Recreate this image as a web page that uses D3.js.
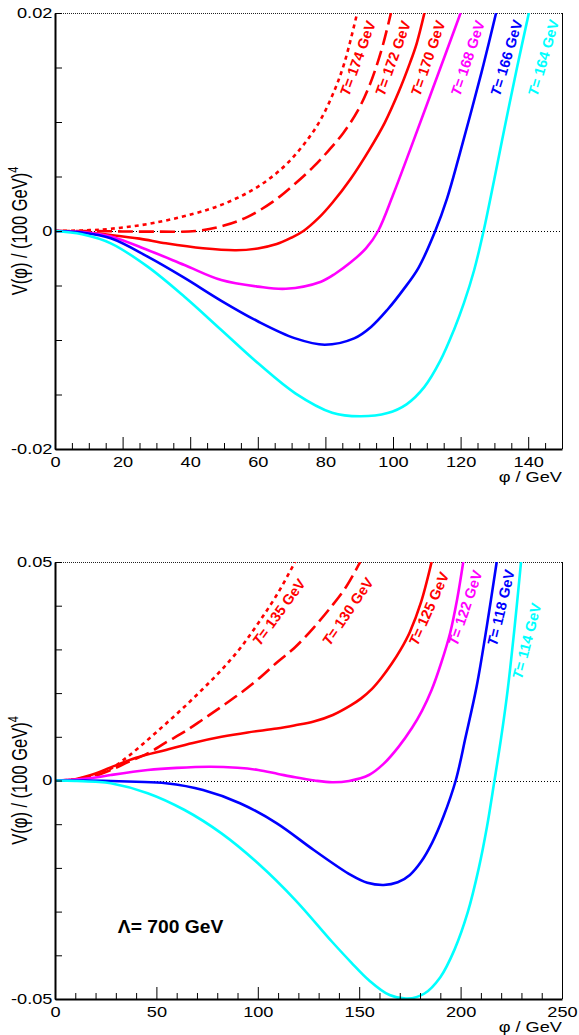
<!DOCTYPE html>
<html><head><meta charset="utf-8">
<script src="https://cdn.jsdelivr.net/npm/d3@7"></script>
<style>body{margin:0;background:#fff} svg{display:block}</style>
</head><body>
<svg id="c" width="579" height="1035"></svg>
<script>
// ---------------- DATA ----------------
// Top panel: phi (GeV), V (100 GeV)^4
const topT174 = [[0,0],[8,0.00005],[16.5,0.0002],[29.6,0.00076],[44.9,0.00193],[53,0.0029],[60.2,0.0041],[67,0.0057],[73,0.0077],[78,0.0099],[82,0.0124],[85.5,0.0153],[89.4,0.02]];
const topT172 = [[0,0],[10,0],[20,-0.00004],[30,-0.00006],[41.6,0],[50,0.0005],[57,0.0013],[64.5,0.0027],[70.5,0.0042],[76.5,0.0059],[81,0.0074],[85.3,0.009],[89.5,0.011],[92.9,0.01324],[96.5,0.0165],[99.4,0.02]];
const topT170 = [[0,0],[8,-0.0001],[16.5,-0.00037],[25,-0.0007],[32.8,-0.00113],[43.8,-0.00159],[53.6,-0.00177],[60,-0.0016],[65.6,-0.0012],[70,-0.0006],[73.5,0],[78,0.0012],[82,0.00257],[87.5,0.0048],[92.9,0.0074],[97.5,0.0099],[101.6,0.0127],[105,0.0154],[107,0.0172],[109.3,0.02]];
const topT168 = [[0,0],[8,-0.0001],[16.5,-0.0005],[27.4,-0.00174],[38.3,-0.00312],[49.2,-0.0045],[60.1,-0.0051],[68.3,-0.0053],[78.7,-0.00465],[83,-0.0039],[87.4,-0.0029],[92,-0.0016],[95.6,0],[100,0.0033],[105,0.0074],[112.4,0.0136],[120,0.02]];
const topT166 = [[0,0],[8,-0.00015],[16.5,-0.00067],[27.4,-0.00235],[38.3,-0.0043],[49.2,-0.0064],[60.1,-0.0083],[71.1,-0.00985],[79.8,-0.01043],[88.5,-0.00985],[93.5,-0.0088],[98.4,-0.0072],[103,-0.0054],[107.5,-0.0034],[112.5,0],[116,0.003],[119.5,0.0068],[123,0.0108],[126.8,0.0153],[130.5,0.02]];
const topT164 = [[0,0],[8,-0.0003],[16.5,-0.00113],[27.4,-0.00327],[38.3,-0.00603],[49.2,-0.00908],[60.1,-0.01214],[71.1,-0.01489],[82,-0.01667],[90.2,-0.017],[98.4,-0.0167],[104,-0.0159],[109.3,-0.0143],[114,-0.0119],[118,-0.0091],[121,-0.0066],[124,-0.0036],[126.8,0],[130,0.0048],[133.3,0.0099],[136.7,0.015],[140.2,0.02]];

// Bottom panel
const botT135 = [[0,0],[10,0.0003],[20,0.0013],[27.5,0.0027],[36,0.0055],[45.7,0.0093],[54.7,0.013],[63.9,0.0169],[73,0.021],[82.1,0.0253],[91.2,0.0302],[100.2,0.036],[109.4,0.0425],[118.4,0.05]];
const botT130 = [[0,0],[10,0.0002],[20,0.0011],[27.5,0.0024],[36,0.0042],[45.7,0.0062],[54.7,0.0087],[63.9,0.01117],[73,0.014],[82.1,0.0169],[91.2,0.0199],[100.2,0.0232],[109.4,0.027],[118.4,0.0305],[127.6,0.035],[136.6,0.04],[143.5,0.0443],[150.5,0.05]];
const botT125 = [[0,0],[10,0.0003],[20,0.0016],[27.5,0.003],[40,0.0052],[54.7,0.007],[68,0.0086],[82.1,0.01],[95,0.011],[109.4,0.0119],[118,0.0126],[127.6,0.0135],[137,0.015],[145.8,0.0172],[151,0.0188],[156.2,0.0209],[161,0.0235],[166,0.0267],[170.5,0.03],[175,0.034],[180.5,0.0408],[185.7,0.05]];
const botT122 = [[0,0],[10,0.0002],[20,0.0007],[27.5,0.00126],[45.7,0.0024],[60,0.0029],[76.6,0.00316],[90,0.0029],[100.2,0.0024],[110,0.0015],[118.4,0.00073],[128,0],[136.6,-0.0004],[145,-0.0001],[154.8,0.00126],[162,0.0038],[169.4,0.0077],[176,0.012],[181,0.016],[185.7,0.0207],[190.5,0.027],[194.8,0.0337],[198.3,0.0415],[201.3,0.05]];
const botT118 = [[0,0],[15,0],[27.5,-0.0001],[40,-0.0003],[54.7,-0.00064],[73,-0.00217],[91.2,-0.0052],[109.4,-0.0098],[127.6,-0.0159],[145.8,-0.0216],[154,-0.0234],[162.1,-0.0239],[169,-0.0233],[175,-0.0216],[180.5,-0.0186],[186,-0.0142],[191.5,-0.0083],[197.6,0],[202.5,0.01],[207.9,0.0215],[213,0.0355],[217.8,0.05]];
const botT114 = [[0,0],[10,-0.0001],[20,-0.0003],[27.5,-0.00064],[45.7,-0.0029],[63.9,-0.00675],[82.1,-0.0121],[100.2,-0.019],[118.4,-0.0273],[136.6,-0.0369],[146,-0.0416],[154.8,-0.0457],[165,-0.0491],[173.9,-0.0499],[182,-0.0488],[190,-0.0450],[197,-0.0387],[203.5,-0.0302],[209,-0.02],[213,-0.0106],[216.7,0],[220,0.0098],[223.2,0.0207],[226.5,0.0345],[229.8,0.05]];

// Axis ticks and labels
const topXMajor = [0,20,40,60,80,100,120,140];
const topXMinor = [5,10,15,25,30,35,45,50,55,65,70,75,85,90,95,105,110,115,125,130,135,145,150];
const topYTicks = [-0.02,-0.015,-0.01,-0.005,0,0.005,0.01,0.015,0.02];
const topYLabelVals = [-0.02,0,0.02];
const topYLabelText = ["-0.02","0","0.02"];
const botXMajor = [0,50,100,150,200,250];
const botXMinor = [10,20,30,40,60,70,80,90,110,120,130,140,160,170,180,190,210,220,230,240];
const botYTicks = [-0.05,-0.04,-0.03,-0.02,-0.01,0,0.01,0.02,0.03,0.04,0.05];
const botYLabelVals = [-0.05,0,0.05];
const botYLabelText = ["-0.05","0","0.05"];

// Curve labels: temperature text, anchor (phi, V), on-screen angle (deg)
const topTemps = ["174","172","170","168","166","164"];
const topLabelPhi = [87.0,97.4,108.0,119.8,131.6,142.7];
const topLabelV = [0.0123,0.0123,0.0123,0.0123,0.0123,0.0123];
const topLabelAngle = [70,70,71,71.3,73,73.8];
const botTemps = ["135","130","125","122","118","114"];
const botLabelPhi = [101,135.5,178.7,198.3,217.8,230.2];
const botLabelV = [0.0306,0.0306,0.0306,0.0306,0.0306,0.023];
const botLabelAngle = [53.8,55.6,66,71,76.5,75.4];

const seriesColors = ["#ff0000","#ff0000","#ff0000","#ff00ff","#0000ff","#00ffff"];
const seriesDash = ["4,4","15,6",null,null,null,null];

// ---------------- DRAW ----------------
const SX = 1.3;
const FONT = "'Liberation Sans', Arial, Helvetica, sans-serif";
const L = 55, R = 562;
const svg = d3.select("#c");
const defs = svg.append("defs");

function drawPanel(p) {
  const x = d3.scaleLinear().domain(p.xDomain).range([L, R]);
  const y = d3.scaleLinear().domain(p.yDomain).range([p.bottom, p.top]);
  const g = svg.append("g");
  defs.append("clipPath").attr("id", "clip" + p.id).append("rect")
    .attr("x", L).attr("y", p.top).attr("width", R - L).attr("height", p.bottom - p.top);

  // frame: dotted top, thin right
  g.append("line").attr("x1", L).attr("x2", R).attr("y1", p.top + 0.5).attr("y2", p.top + 0.5)
    .attr("stroke", "#222").attr("stroke-width", 1).attr("stroke-dasharray", "1,1");
  g.append("line").attr("x1", R + 0.5).attr("x2", R + 0.5).attr("y1", p.top).attr("y2", p.bottom)
    .attr("stroke", "#000").attr("stroke-width", 1);
  // zero line
  g.append("line").attr("x1", L).attr("x2", R).attr("y1", Math.round(y(0)) + 0.5).attr("y2", Math.round(y(0)) + 0.5)
    .attr("stroke", "#000").attr("stroke-width", 1).attr("stroke-dasharray", "1,2");

  // curves
  const line = d3.line().x(d => x(d[0])).y(d => y(d[1])).curve(d3.curveCatmullRom.alpha(0.5));
  p.series.forEach((s, i) => {
    g.append("path").attr("d", line(s)).attr("clip-path", "url(#clip" + p.id + ")")
      .attr("fill", "none").attr("stroke", seriesColors[i]).attr("stroke-width", 2.6)
      .attr("stroke-dasharray", seriesDash[i]);
  });

  // curve labels
  p.temps.forEach((t, i) => {
    const txt = g.append("text")
      .attr("transform", `translate(${x(p.lphi[i])},${y(p.lv[i])}) rotate(${-p.angles[i]})`)
      .attr("font-family", FONT).attr("font-weight", "bold").attr("font-size", 14.5)
      .attr("fill", seriesColors[i]);
    txt.append("tspan").attr("font-style", "italic").text("T");
    txt.append("tspan").text("= " + t + " GeV");
  });

  // x axis
  const xMinor = d3.axisBottom(x).tickValues(p.xMinor).tickSize(-6).tickSizeOuter(0).tickFormat("");
  const xMajor = d3.axisBottom(x).tickValues(p.xMajor).tickSize(-12).tickSizeOuter(0).tickPadding(8);
  const gxm = g.append("g").attr("transform", `translate(0,${p.bottom})`).call(xMinor);
  gxm.select(".domain").remove();
  const gx = g.append("g").attr("transform", `translate(0,${p.bottom})`).call(xMajor);
  gx.select(".domain").attr("stroke-width", 2);
  g.selectAll(".tick line").attr("stroke", "#000").attr("stroke-width", 1);
  gx.selectAll(".tick text").attr("font-family", FONT).attr("font-size", 14).attr("fill", "#000")
    .attr("transform", `scale(${SX},1)`);

  // y axis
  const yAx = d3.axisLeft(y).tickValues(p.yTicks).tickSize(-7).tickSizeOuter(0).tickPadding(2)
    .tickFormat(d => { const k = p.yLabelVals.findIndex(v => Math.abs(v - d) < 1e-9); return k >= 0 ? p.yLabelText[k] : ""; });
  const gy = g.append("g").attr("transform", `translate(${L},0)`).call(yAx);
  gy.select(".domain").attr("stroke-width", 2);
  gy.selectAll(".tick line").attr("stroke", "#000");
  gy.selectAll(".tick text").attr("font-family", FONT).attr("font-size", 14).attr("fill", "#000")
    .attr("transform", `scale(${SX},1)`);

  // axis titles
  const xt = g.append("text").attr("transform", `translate(${R},${p.bottom + 32.5}) scale(${SX},1)`)
    .attr("text-anchor", "end").attr("font-family", FONT).attr("font-size", 14);
  xt.text("\u03c6 / GeV");
  const yt = g.append("text")
    .attr("transform", `translate(27,${(p.top + p.bottom) / 2}) scale(${SX},1) rotate(-90)`)
    .attr("text-anchor", "middle").attr("font-family", FONT).attr("font-size", 16.5);
  yt.append("tspan").text("V(\u03c6) / (100 GeV)");
  yt.append("tspan").attr("font-size", 11).attr("dy", -7).text("4");

  return { x, y, g };
}

drawPanel({
  id: "top", top: 13, bottom: 449, xDomain: [0, 150], yDomain: [-0.02, 0.02],
  xMajor: topXMajor, xMinor: topXMinor, yTicks: topYTicks, yLabelVals: topYLabelVals, yLabelText: topYLabelText,
  series: [topT174, topT172, topT170, topT168, topT166, topT164],
  temps: topTemps, lphi: topLabelPhi, lv: topLabelV, angles: topLabelAngle
});
const bot = drawPanel({
  id: "bot", top: 562, bottom: 999, xDomain: [0, 250], yDomain: [-0.05, 0.05],
  xMajor: botXMajor, xMinor: botXMinor, yTicks: botYTicks, yLabelVals: botYLabelVals, yLabelText: botYLabelText,
  series: [botT135, botT130, botT125, botT122, botT118, botT114],
  temps: botTemps, lphi: botLabelPhi, lv: botLabelV, angles: botLabelAngle
});
// Lambda annotation
const lambdaPhi = 31, lambdaV = -0.0349;
bot.g.append("text").attr("transform", `translate(${bot.x(lambdaPhi)},${bot.y(lambdaV)}) scale(1.07,1)`)
  .attr("font-family", FONT).attr("font-weight", "bold").attr("font-size", 18).text("\u039b= 700 GeV");
</script>
</body></html>
